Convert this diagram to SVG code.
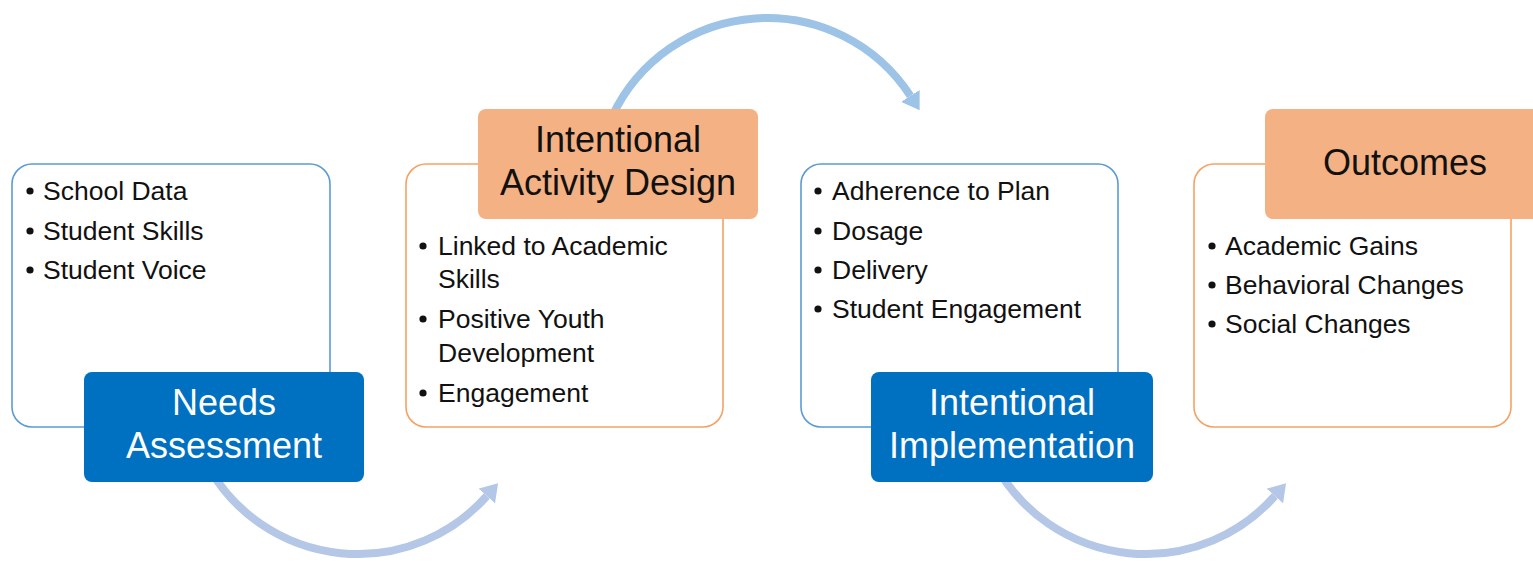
<svg xmlns="http://www.w3.org/2000/svg" width="1533" height="561" viewBox="0 0 1533 561">
<defs>
<style>
.ob{fill:#fff;stroke:#5b9bd5;stroke-width:1.6}
.oo{fill:#fff;stroke:#f4a263;stroke-width:1.6}
.lb{fill:#0070c0}
.lo{fill:#f4b183}
.t{font-family:"Liberation Sans",Arial,sans-serif;font-size:26.5px;fill:#111}
.h{font-family:"Liberation Sans",Arial,sans-serif;font-size:36px;text-anchor:middle}
.hw{fill:#fff}
.hk{fill:#111}
.d{fill:#111}
.a1{fill:none;stroke:#b4c7e7;stroke-width:8}
.a2{fill:none;stroke:#9dc3e6;stroke-width:8}
</style>
<marker id="m1" markerUnits="userSpaceOnUse" viewBox="0 0 17 22" refX="0" refY="11" markerWidth="17" markerHeight="22" orient="auto">
<path d="M0,0 L17,11 L0,22 z" fill="#b4c7e7"/>
</marker>
<marker id="m2" markerUnits="userSpaceOnUse" viewBox="0 0 17 22" refX="0" refY="11" markerWidth="17" markerHeight="22" orient="auto">
<path d="M0,0 L17,11 L0,22 z" fill="#9dc3e6"/>
</marker>
</defs>
<rect width="1533" height="561" fill="#fff"/>
<g id="connectors">
<path class="a1" d="M209,468 A172,172 0 0 0 486.8,496" marker-end="url(#m1)"/>
<path class="a1" d="M997,468 A172,172 0 0 0 1274.8,496" marker-end="url(#m1)"/>
<path class="a2" d="M612,116.7 A171,171 0 0 1 910.4,95.9" marker-end="url(#m2)"/>
</g>
<g id="needs-assessment">
<rect class="ob" x="12" y="164" width="318" height="263" rx="20"/>
<circle class="d" cx="30" cy="191" r="3.6"/>
<text class="t" x="43" y="200">School Data</text>
<circle class="d" cx="30" cy="231" r="3.6"/>
<text class="t" x="43" y="240">Student Skills</text>
<circle class="d" cx="30" cy="270" r="3.6"/>
<text class="t" x="43" y="279">Student Voice</text>
<rect class="lb" x="84" y="372" width="280" height="110" rx="8"/>
<text class="h hw" x="224" y="415">Needs</text>
<text class="h hw" x="224" y="458">Assessment</text>
</g>
<g id="activity-design">
<rect class="oo" x="406" y="164" width="317" height="263" rx="20"/>
<circle class="d" cx="423" cy="246" r="3.6"/>
<text class="t" x="438" y="255">Linked to Academic</text>
<text class="t" x="438" y="288">Skills</text>
<circle class="d" cx="423" cy="319" r="3.6"/>
<text class="t" x="438" y="328">Positive Youth</text>
<text class="t" x="438" y="362">Development</text>
<circle class="d" cx="423" cy="393" r="3.6"/>
<text class="t" x="438" y="402">Engagement</text>
<rect class="lo" x="478" y="109" width="280" height="110" rx="8"/>
<text class="h hk" x="618" y="152">Intentional</text>
<text class="h hk" x="618" y="195">Activity Design</text>
</g>
<g id="implementation">
<rect class="ob" x="801" y="164" width="317" height="263" rx="20"/>
<circle class="d" cx="818" cy="191" r="3.6"/>
<text class="t" x="832" y="200">Adherence to Plan</text>
<circle class="d" cx="818" cy="231" r="3.6"/>
<text class="t" x="832" y="240">Dosage</text>
<circle class="d" cx="818" cy="270" r="3.6"/>
<text class="t" x="832" y="279">Delivery</text>
<circle class="d" cx="818" cy="309" r="3.6"/>
<text class="t" x="832" y="318">Student Engagement</text>
<rect class="lb" x="871" y="372" width="282" height="110" rx="8"/>
<text class="h hw" x="1012" y="415">Intentional</text>
<text class="h hw" x="1012" y="458">Implementation</text>
</g>
<g id="outcomes">
<rect class="oo" x="1194" y="164" width="317" height="263" rx="20"/>
<circle class="d" cx="1212" cy="246" r="3.6"/>
<text class="t" x="1225" y="255">Academic Gains</text>
<circle class="d" cx="1212" cy="285" r="3.6"/>
<text class="t" x="1225" y="294">Behavioral Changes</text>
<circle class="d" cx="1212" cy="324" r="3.6"/>
<text class="t" x="1225" y="333">Social Changes</text>
<rect class="lo" x="1265" y="109" width="290" height="110" rx="8"/>
<text class="h hk" x="1405" y="175">Outcomes</text>
</g>
</svg>
